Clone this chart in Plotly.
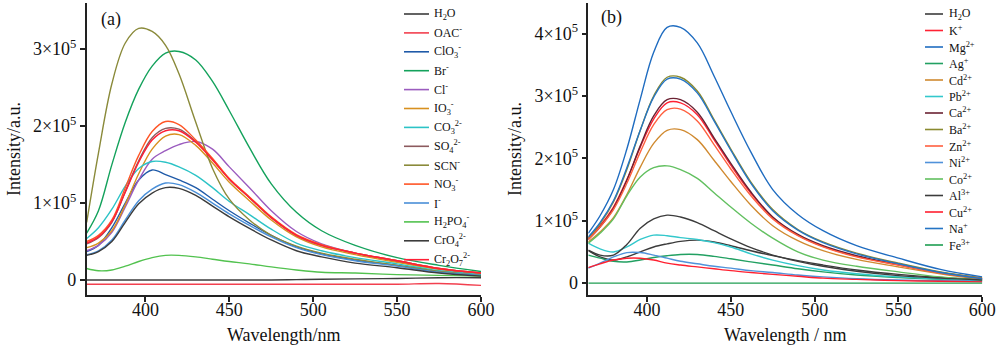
import plotly.graph_objects as go

# Emission wavelengths (nm) shared by every spectrum
wavelength = [365, 372, 380, 388, 396, 404, 412, 420, 430, 440, 450, 462, 475, 490, 505, 525, 550, 575, 600]

# (a) anions, intensity in units of 1e5 a.u.
a_h2o = [0, 0, 0, 0, 0, 0, 0, 0, 0, 0, 0, 0, 0, 0.005, 0.01, 0.015, 0.02, 0.03, 0.03]
a_oac = [-0.055, -0.055, -0.055, -0.055, -0.055, -0.055, -0.055, -0.055, -0.055, -0.055,
         -0.055, -0.055, -0.055, -0.055, -0.055, -0.055, -0.055, -0.045, -0.07]
a_clo3 = [0.37, 0.45, 0.68, 1.00, 1.30, 1.43, 1.37, 1.30, 1.20, 1.05, 0.90, 0.74, 0.58, 0.43, 0.34, 0.26, 0.19, 0.11, 0.06]
a_br = [0.61, 0.90, 1.50, 2.05, 2.48, 2.78, 2.95, 2.97, 2.86, 2.58, 2.20, 1.72, 1.25, 0.88, 0.64, 0.45, 0.29, 0.19, 0.11]
a_cl = [0.38, 0.45, 0.62, 0.95, 1.30, 1.57, 1.68, 1.76, 1.80, 1.70, 1.47, 1.20, 0.90, 0.63, 0.47, 0.35, 0.24, 0.14, 0.08]
a_io3 = [0.42, 0.48, 0.64, 0.98, 1.38, 1.70, 1.87, 1.89, 1.75, 1.52, 1.27, 1.03, 0.78, 0.56, 0.43, 0.33, 0.23, 0.14, 0.08]
a_co3 = [0.54, 0.68, 0.92, 1.22, 1.45, 1.54, 1.53, 1.47, 1.36, 1.20, 1.02, 0.85, 0.66, 0.48, 0.38, 0.29, 0.21, 0.12, 0.07]
a_so4 = [0.47, 0.55, 0.75, 1.15, 1.55, 1.85, 1.97, 1.96, 1.80, 1.57, 1.31, 1.07, 0.81, 0.58, 0.45, 0.35, 0.25, 0.15, 0.09]
a_scn = [0.75, 1.65, 2.55, 3.08, 3.27, 3.23, 3.05, 2.68, 2.05, 1.45, 1.05, 0.78, 0.58, 0.44, 0.35, 0.27, 0.19, 0.11, 0.06]
a_no3 = [0.50, 0.58, 0.78, 1.20, 1.62, 1.93, 2.06, 2.02, 1.82, 1.58, 1.32, 1.08, 0.82, 0.59, 0.46, 0.35, 0.25, 0.15, 0.09]
a_i = [0.33, 0.38, 0.52, 0.78, 1.03, 1.18, 1.26, 1.24, 1.14, 1.00, 0.86, 0.71, 0.56, 0.42, 0.33, 0.25, 0.18, 0.10, 0.06]
a_h2po4 = [0.15, 0.12, 0.13, 0.18, 0.24, 0.29, 0.32, 0.32, 0.30, 0.27, 0.24, 0.21, 0.17, 0.13, 0.10, 0.09, 0.07, 0.06, 0.05]
a_cro4 = [0.32, 0.37, 0.50, 0.75, 0.99, 1.13, 1.20, 1.19, 1.10, 0.96, 0.82, 0.67, 0.52, 0.38, 0.30, 0.22, 0.16, 0.09, 0.05]
a_cr2o7 = [0.48, 0.56, 0.76, 1.14, 1.53, 1.82, 1.94, 1.94, 1.79, 1.56, 1.31, 1.07, 0.81, 0.58, 0.45, 0.35, 0.25, 0.15, 0.09]

# (b) cations, intensity in units of 1e5 a.u.
b_h2o = [0.52, 0.42, 0.37, 0.42, 0.50, 0.58, 0.63, 0.67, 0.69, 0.66, 0.60, 0.52, 0.44, 0.36, 0.29, 0.21, 0.14, 0.09, 0.06]
b_k = [0.72, 0.92, 1.22, 1.66, 2.18, 2.63, 2.89, 2.89, 2.70, 2.30, 1.89, 1.44, 1.05, 0.77, 0.59, 0.43, 0.29, 0.16, 0.07]
b_mg = [0.80, 1.08, 1.50, 2.15, 2.95, 3.70, 4.10, 4.10, 3.85, 3.32, 2.75, 2.10, 1.50, 1.10, 0.84, 0.60, 0.40, 0.22, 0.10]
b_ag = [0.45, 0.40, 0.35, 0.34, 0.37, 0.41, 0.44, 0.46, 0.46, 0.43, 0.39, 0.34, 0.29, 0.23, 0.18, 0.13, 0.09, 0.06, 0.04]
b_cd = [0.66, 0.82, 1.05, 1.42, 1.86, 2.24, 2.45, 2.46, 2.30, 1.97, 1.63, 1.25, 0.92, 0.68, 0.52, 0.38, 0.26, 0.15, 0.06]
b_pb = [0.64, 0.55, 0.50, 0.58, 0.70, 0.77, 0.76, 0.73, 0.70, 0.65, 0.58, 0.47, 0.37, 0.28, 0.21, 0.15, 0.10, 0.07, 0.04]
b_ca = [0.70, 0.90, 1.20, 1.65, 2.20, 2.68, 2.94, 2.94, 2.74, 2.33, 1.92, 1.46, 1.06, 0.78, 0.60, 0.44, 0.30, 0.17, 0.08]
b_ba = [0.72, 0.95, 1.30, 1.82, 2.45, 3.00, 3.30, 3.30, 3.08, 2.62, 2.15, 1.62, 1.18, 0.86, 0.66, 0.48, 0.32, 0.18, 0.08]
b_zn = [0.70, 0.90, 1.18, 1.60, 2.10, 2.54, 2.78, 2.79, 2.60, 2.22, 1.83, 1.40, 1.03, 0.76, 0.58, 0.42, 0.29, 0.16, 0.07]
b_ni = [0.24, 0.32, 0.42, 0.49, 0.49, 0.45, 0.40, 0.35, 0.31, 0.27, 0.24, 0.20, 0.17, 0.13, 0.10, 0.07, 0.05, 0.04, 0.03]
b_co = [0.64, 0.80, 1.03, 1.40, 1.70, 1.85, 1.88, 1.82, 1.68, 1.45, 1.22, 0.96, 0.72, 0.50, 0.37, 0.27, 0.18, 0.10, 0.05]
b_al = [0.53, 0.45, 0.45, 0.62, 0.88, 1.03, 1.09, 1.06, 0.97, 0.84, 0.71, 0.57, 0.45, 0.35, 0.27, 0.19, 0.12, 0.08, 0.05]
b_cu = [0.25, 0.31, 0.37, 0.40, 0.40, 0.37, 0.32, 0.29, 0.26, 0.23, 0.20, 0.17, 0.14, 0.11, 0.08, 0.06, 0.04, 0.03, 0.02]
b_na = [0.74, 0.97, 1.32, 1.85, 2.45, 2.98, 3.27, 3.27, 3.05, 2.60, 2.13, 1.60, 1.16, 0.85, 0.65, 0.47, 0.31, 0.17, 0.07]
b_fe = [0, 0, 0, 0, 0, 0, 0, 0, 0, 0, 0, 0, 0, 0, 0, 0, 0, 0, 0]

anion_labels = ["H<sub>2</sub>O", "OAC<sup>-</sup>", "ClO<sub>3</sub><sup>-</sup>", "Br<sup>-</sup>",
                "Cl<sup>-</sup>", "IO<sub>3</sub><sup>-</sup>", "CO<sub>3</sub><sup>2-</sup>",
                "SO<sub>4</sub><sup>2-</sup>", "SCN<sup>-</sup>", "NO<sub>3</sub><sup>-</sup>",
                "I<sup>-</sup>", "H<sub>2</sub>PO<sub>4</sub><sup>-</sup>",
                "CrO<sub>4</sub><sup>2-</sup>", "Cr<sub>2</sub>O<sub>7</sub><sup>2-</sup>"]
anion_series = [a_h2o, a_oac, a_clo3, a_br, a_cl, a_io3, a_co3, a_so4, a_scn, a_no3,
                a_i, a_h2po4, a_cro4, a_cr2o7]
anion_colors = ["#3c3c3c", "#f2404f", "#1f5aa8", "#14a25c", "#9b5cbf", "#d8901f", "#2cc3c6",
                "#8c5a5e", "#8a8a3a", "#ff5526", "#4a8fd8", "#52c24f", "#3c3c3c", "#ff1f35"]

cation_labels = ["H<sub>2</sub>O", "K<sup>+</sup>", "Mg<sup>2+</sup>", "Ag<sup>+</sup>",
                 "Cd<sup>2+</sup>", "Pb<sup>2+</sup>", "Ca<sup>2+</sup>", "Ba<sup>2+</sup>",
                 "Zn<sup>2+</sup>", "Ni<sup>2+</sup>", "Co<sup>2+</sup>", "Al<sup>3+</sup>",
                 "Cu<sup>2+</sup>", "Na<sup>+</sup>", "Fe<sup>3+</sup>"]
cation_series = [b_h2o, b_k, b_mg, b_ag, b_cd, b_pb, b_ca, b_ba, b_zn, b_ni, b_co, b_al,
                 b_cu, b_na, b_fe]
cation_colors = ["#3c3c3c", "#ff2233", "#1f6cc0", "#22a062", "#d08a30", "#33c8cc", "#6b2233",
                 "#8a8a30", "#ff6040", "#5092da", "#62c060", "#3c3c3c", "#ff2030", "#2474c4",
                 "#1f9e52"]

FONT = "Liberation Serif"
W, H = 1000, 346
TOP, BOTTOM = 3, 295          # plot-area pixel rows
DOM_A = (86.7, 481.0)          # pixel columns of panel (a)
DOM_B = (588.3, 982.3)         # pixel columns of panel (b)


def px(x):
    return x / W


def py(y):
    return (BOTTOM - y) / (BOTTOM - TOP)


fig = go.Figure()

for vals, col in zip(anion_series, anion_colors):
    fig.add_trace(go.Scatter(x=wavelength, y=vals, mode="lines", line=dict(color=col, width=1.4, shape="spline", smoothing=1.0),
                             xaxis="x", yaxis="y", showlegend=False, hoverinfo="skip"))
for vals, col in zip(cation_series, cation_colors):
    fig.add_trace(go.Scatter(x=wavelength, y=vals, mode="lines", line=dict(color=col, width=1.4, shape="spline", smoothing=1.0),
                             xaxis="x2", yaxis="y2", showlegend=False, hoverinfo="skip"))

axis_common = dict(showline=True, linecolor="#222", linewidth=1.5, ticks="outside", ticklen=5,
                   tickwidth=1.5, tickcolor="#222", showgrid=False, zeroline=False,
                   tickfont=dict(family=FONT, size=18, color="#111"), automargin=False)
sci = ["0", "1×10<sup>5</sup>", "2×10<sup>5</sup>", "3×10<sup>5</sup>", "4×10<sup>5</sup>"]
xticks = dict(range=[365, 600], tickvals=[400, 450, 500, 550, 600], ticklabelstandoff=-7)

fig.update_layout(
    width=W, height=H,
    margin=dict(l=0, r=0, t=TOP, b=H - BOTTOM),
    paper_bgcolor="white", plot_bgcolor="white",
    xaxis=dict(domain=[px(DOM_A[0]), px(DOM_A[1])], anchor="y", **xticks, **axis_common),
    yaxis=dict(domain=[0, 1], range=[-0.195, 3.6], tickvals=[0, 1, 2, 3], ticktext=sci[:4],
               anchor="x", **axis_common),
    xaxis2=dict(domain=[px(DOM_B[0]), px(DOM_B[1])], anchor="y2", **xticks, **axis_common),
    yaxis2=dict(domain=[0, 1], range=[-0.19, 4.49], tickvals=[0, 1, 2, 3, 4], ticktext=sci,
                anchor="x2", **axis_common),
)

annotations = []
shapes = []


def text(x, y, s, size, anchor="center", angle=0):
    annotations.append(dict(x=px(x), y=py(y), xref="paper", yref="paper", text=s, showarrow=False,
                            xanchor=anchor, yanchor="middle", textangle=angle,
                            font=dict(family=FONT, size=size, color="#111")))


# axis titles and panel tags
text(283.9, 335, "Wavelength/nm", 18)
text(785.3, 335, "Wavelength / nm", 18)
text(14, 149, "Intensity/a.u.", 18, angle=-90)
text(515, 149, "Intensity/a.u.", 18, angle=-90)
text(111, 19, "(a)", 18)
text(611, 18, "(b)", 18)


def legend(labels, colors, x0, x1, xt, y0, step):
    for i, (lab, col) in enumerate(zip(labels, colors)):
        yy = y0 + i * step
        shapes.append(dict(type="line", xref="paper", yref="paper", x0=px(x0), x1=px(x1),
                           y0=py(yy), y1=py(yy), line=dict(color=col, width=1.6)))
        text(xt, yy, lab, 12, anchor="left")


legend(anion_labels, anion_colors, 404, 429, 432, 14, 18.9)
legend(cation_labels, cation_colors, 925, 943, 947, 14, 16.5)

fig.update_layout(annotations=annotations, shapes=shapes)
fig.write_html("out.html")
